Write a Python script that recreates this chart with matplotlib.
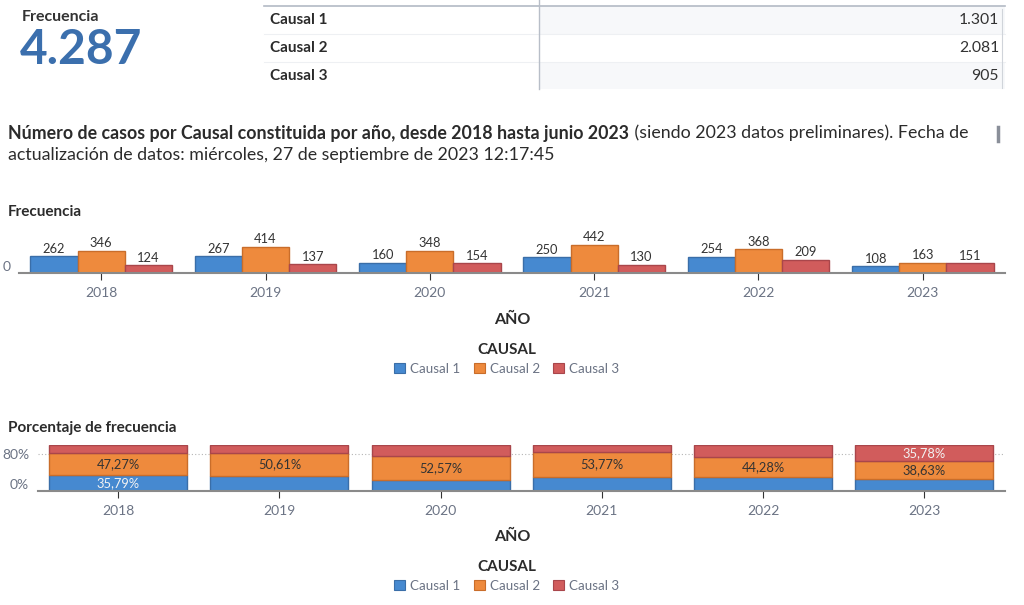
import matplotlib
matplotlib.use("Agg")
import matplotlib.pyplot as plt
import numpy as np

plt.rcParams['font.family'] = ['Lato', 'DejaVu Sans']

years = ['2018', '2019', '2020', '2021', '2022', '2023']
causales = ['Causal 1', 'Causal 2', 'Causal 3']
causal1 = [262, 267, 160, 250, 254, 108]
causal2 = [346, 414, 348, 442, 368, 163]
causal3 = [124, 137, 154, 130, 209, 151]

colors = ['#4689d0', '#ee8a3d', '#d15c5c']
edges = ['#3a6ea8', '#c96d2a', '#a9464b']
dark = '#2b2b2b'
gray = '#6b7384'

series = [causal1, causal2, causal3]
totals_causal = [sum(s) for s in series]
total = sum(totals_causal)


def miles(n):
    return format(n, ',').replace(',', '.')


def pct(v):
    return f'{v:.2f}'.replace('.', ',') + '%'


W, H = 1024, 605
fig = plt.figure(figsize=(W / 100, H / 100), dpi=100)

# capa en coordenadas de pixel para textos y tabla
bg = fig.add_axes([0, 0, 1, 1], zorder=0)
bg.set_xlim(0, W)
bg.set_ylim(H, 0)
bg.axis('off')

# --- KPI superior ---
bg.text(22, 17, 'Frecuencia', fontsize=11.5, fontweight='bold', color='#333333', va='center')
bg.text(20, 50, miles(total), fontsize=34.5, fontweight='bold', color='#3b6fad', va='center')

# --- tabla ---
row_y = [6, 34, 62, 89]
for i, name in enumerate(causales):
    if i != 1:
        bg.fill_between([539, 1005], row_y[i], row_y[i + 1], color='#f7f8fa', lw=0)
    if i > 0:
        bg.plot([264, 1005], [row_y[i], row_y[i]], color='#eef0f3', lw=0.8)
    yc = (row_y[i] + row_y[i + 1]) / 2 + 0.5
    bg.text(270, yc, name, fontsize=11, fontweight='bold', color=dark, va='center')
    bg.text(999, yc, miles(totals_causal[i]), fontsize=11.3, color='#333333', va='center', ha='right')
bg.plot([264, 1005], [6, 6], color='#b3bac5', lw=1.2)
bg.plot([539, 539], [0, 89], color='#b8bec8', lw=1)
bg.plot([1002, 1002], [9, 88], color='#d0d4da', lw=0.8)

# --- titulo ---
fig.canvas.draw()
r = fig.canvas.get_renderer()
t1 = bg.text(8, 133, 'Número de casos por Causal constituida por año, desde 2018 hasta junio 2023',
             fontsize=12.8, fontweight='bold', color=dark, va='center')
x_end = t1.get_window_extent(renderer=r).x1
fig.text((x_end + 1) / W, 1 - 133 / H, ' (siendo 2023 datos preliminares). Fecha de',
         fontsize=12.8, color=dark, va='center')
bg.text(8, 155, 'actualización de datos: miércoles, 27 de septiembre de 2023 12:17:45',
        fontsize=12.8, color=dark, va='center')
bg.plot([998, 998], [127, 141], color='#8a8f99', lw=2.5)

# --- grafico 1: frecuencia ---
bg.text(8, 212, 'Frecuencia', fontsize=11, fontweight='bold', color=dark, va='center')
ax1 = fig.add_axes([19 / W, 1 - 273 / H, (1005 - 19) / W, 32 / H], zorder=2)
ax1.patch.set_alpha(0)
x = np.arange(len(years))
bw = 0.287
for i, s in enumerate(series):
    bars = ax1.bar(x + (i - 1) * bw, s, width=bw, color=colors[i], edgecolor=edges[i], lw=1)
    ax1.bar_label(bars, labels=[str(v) for v in s], padding=1, fontsize=9.3, color='#333333')
ax1.set_xlim(-0.5, len(years) - 0.5)
ax1.set_ylim(0, 500)
ax1.set_xticks(x)
ax1.set_xticklabels(years, fontsize=10, color=gray)
ax1.set_yticks([0])
ax1.set_yticklabels(['0'], fontsize=10, color=gray, va='bottom')
ax1.tick_params(axis='y', length=0, pad=6)
ax1.tick_params(axis='x', length=5, color='#333333', pad=5)
for sp in ['top', 'right', 'left']:
    ax1.spines[sp].set_visible(False)
ax1.spines['bottom'].set_color('#8a8a8a')
ax1.spines['bottom'].set_linewidth(1.5)

bg.text(512, 320, 'AÑO', fontsize=11.5, fontweight='bold', color=dark, va='center', ha='center')
bg.text(507, 350, 'CAUSAL', fontsize=11, fontweight='bold', color=dark, va='center', ha='center')


def legend_at(y):
    handles = [plt.Rectangle((0, 0), 1, 1, facecolor=colors[i], edgecolor=edges[i], lw=0.8)
               for i in range(3)]
    leg = fig.legend(handles, causales, loc='center', bbox_to_anchor=(507 / W, 1 - y / H),
                     ncol=3, frameon=False, fontsize=9.6, handlelength=0.8, handleheight=0.8,
                     handletextpad=0.4, columnspacing=1.0, borderpad=0)
    for t in leg.get_texts():
        t.set_color(gray)


legend_at(369)

# --- grafico 2: porcentaje ---
bg.text(8, 428, 'Porcentaje de frecuencia', fontsize=11, fontweight='bold', color=dark, va='center')
ax2 = fig.add_axes([37.5 / W, 1 - 491 / H, (1005 - 37.5) / W, 46 / H], zorder=2)
ax2.patch.set_alpha(0)
tot_year = np.array(causal1) + np.array(causal2) + np.array(causal3)
bottom = np.zeros(len(years))
bw2 = 0.856
for i, s in enumerate(series):
    p = np.array(s) / tot_year * 100
    ax2.bar(x, p, bottom=bottom, width=bw2, color=colors[i], edgecolor=edges[i], lw=1, zorder=2)
    for j, v in enumerate(p):
        if v >= 35:
            tc = '#333333' if i == 1 else '#f2f2f2'
            ax2.text(x[j], bottom[j] + v / 2, pct(v), ha='center', va='center', fontsize=9.3,
                     color=tc, zorder=3)
    bottom += p
ax2.axhline(80, color='#b5b5b5', lw=0.8, ls=(0, (1, 2)), zorder=1)
ax2.set_xlim(-0.5, len(years) - 0.5)
ax2.set_ylim(0, 100)
ax2.set_xticks(x)
ax2.set_xticklabels(years, fontsize=10, color=gray)
ax2.set_yticks([0, 80])
ax2.set_yticklabels(['0%', '80%'], fontsize=10, color=gray)
ax2.get_yticklabels()[0].set_va('bottom')
ax2.tick_params(axis='y', length=0, pad=6)
ax2.tick_params(axis='x', length=5, color='#333333', pad=5)
for sp in ['top', 'right', 'left']:
    ax2.spines[sp].set_visible(False)
ax2.spines['bottom'].set_color('#8a8a8a')
ax2.spines['bottom'].set_linewidth(1.5)

bg.text(512, 537, 'AÑO', fontsize=11.5, fontweight='bold', color=dark, va='center', ha='center')
bg.text(507, 567, 'CAUSAL', fontsize=11, fontweight='bold', color=dark, va='center', ha='center')
legend_at(586)

fig.savefig('out.png', dpi=100)
